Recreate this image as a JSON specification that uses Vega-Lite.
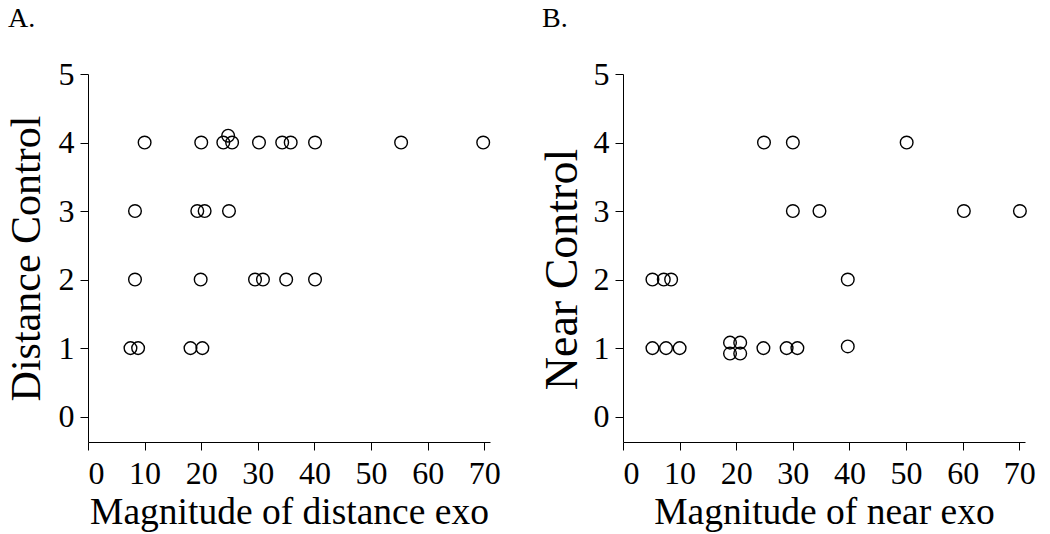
{
  "$schema": "https://vega.github.io/schema/vega-lite/v6.json",
  "background": "white",
  "padding": {"left": 5, "top": 5, "right": 5, "bottom": 5},
  "spacing": 38,
  "config": {
    "view": {"stroke": null},
    "font": "'Liberation Serif', 'Times New Roman', serif",
    "axis": {
      "grid": false,
      "domainColor": "black",
      "domainWidth": 1,
      "tickColor": "black",
      "tickWidth": 1,
      "tickSize": 8,
      "labelColor": "black",
      "titleColor": "black",
      "labelFont": "'Liberation Serif', 'Times New Roman', serif",
      "titleFont": "'Liberation Serif', 'Times New Roman', serif",
      "labelFontSize": 32,
      "titleFontWeight": "normal"
    },
    "axisX": {"titleFontSize": 37.5, "labelPadding": 8, "titlePadding": 4},
    "axisY": {"titleFontSize": 42, "labelPadding": 6, "titlePadding": 10},
    "title": {"font": "'Liberation Serif', 'Times New Roman', serif", "fontSize": 28, "fontWeight": "normal", "color": "black", "anchor": "start", "frame": "bounds", "offset": 25}
  },
  "hconcat": [
    {
      "title": {"text": "A.", "dx": 3},
      "width": 402,
      "height": 368,
      "data": {"values": [
        {"x": 10, "y": 4}, {"x": 20, "y": 4}, {"x": 23.9, "y": 4}, {"x": 24.75, "y": 4.1}, {"x": 25.45, "y": 4},
        {"x": 30.2, "y": 4}, {"x": 34.3, "y": 4}, {"x": 35.8, "y": 4}, {"x": 40.1, "y": 4}, {"x": 55.3, "y": 4}, {"x": 69.8, "y": 4},
        {"x": 8.3, "y": 3}, {"x": 19.3, "y": 3}, {"x": 20.6, "y": 3}, {"x": 24.9, "y": 3},
        {"x": 8.3, "y": 2}, {"x": 19.9, "y": 2}, {"x": 29.5, "y": 2}, {"x": 30.9, "y": 2}, {"x": 35, "y": 2}, {"x": 40.1, "y": 2},
        {"x": 7.5, "y": 1}, {"x": 8.85, "y": 1}, {"x": 18.1, "y": 1}, {"x": 20.2, "y": 1}
      ]},
      "mark": {"type": "point", "shape": "circle", "filled": false, "size": 160, "color": "black", "strokeWidth": 1.4, "opacity": 1},
      "encoding": {
        "x": {"field": "x", "type": "quantitative", "scale": {"domain": [0, 71], "nice": false, "zero": false}, "axis": {"values": [0, 10, 20, 30, 40, 50, 60, 70], "title": "Magnitude of distance exo"}},
        "y": {"field": "y", "type": "quantitative", "scale": {"domain": [-0.37, 5], "nice": false, "zero": false}, "axis": {"values": [0, 1, 2, 3, 4, 5], "title": "Distance Control"}}
      }
    },
    {
      "title": {"text": "B.", "dx": 3},
      "width": 402,
      "height": 368,
      "data": {"values": [
        {"x": 24.9, "y": 4}, {"x": 30, "y": 4}, {"x": 50.1, "y": 4},
        {"x": 30, "y": 3}, {"x": 34.7, "y": 3}, {"x": 60.2, "y": 3}, {"x": 70.1, "y": 3},
        {"x": 5.2, "y": 2}, {"x": 7.2, "y": 2}, {"x": 8.5, "y": 2}, {"x": 39.7, "y": 2},
        {"x": 5.2, "y": 1}, {"x": 7.6, "y": 1}, {"x": 10, "y": 1},
        {"x": 18.9, "y": 1.08}, {"x": 20.7, "y": 1.08}, {"x": 18.9, "y": 0.92}, {"x": 20.7, "y": 0.92},
        {"x": 24.8, "y": 1}, {"x": 28.9, "y": 1}, {"x": 30.8, "y": 1}, {"x": 39.7, "y": 1.025}
      ]},
      "mark": {"type": "point", "shape": "circle", "filled": false, "size": 160, "color": "black", "strokeWidth": 1.4, "opacity": 1},
      "encoding": {
        "x": {"field": "x", "type": "quantitative", "scale": {"domain": [0, 71], "nice": false, "zero": false}, "axis": {"values": [0, 10, 20, 30, 40, 50, 60, 70], "title": "Magnitude of near exo"}},
        "y": {"field": "y", "type": "quantitative", "scale": {"domain": [-0.37, 5], "nice": false, "zero": false}, "axis": {"values": [0, 1, 2, 3, 4, 5], "title": "Near Control", "titleFontSize": 46, "titlePadding": 7, "titleY": 195}}
      }
    }
  ]
}
